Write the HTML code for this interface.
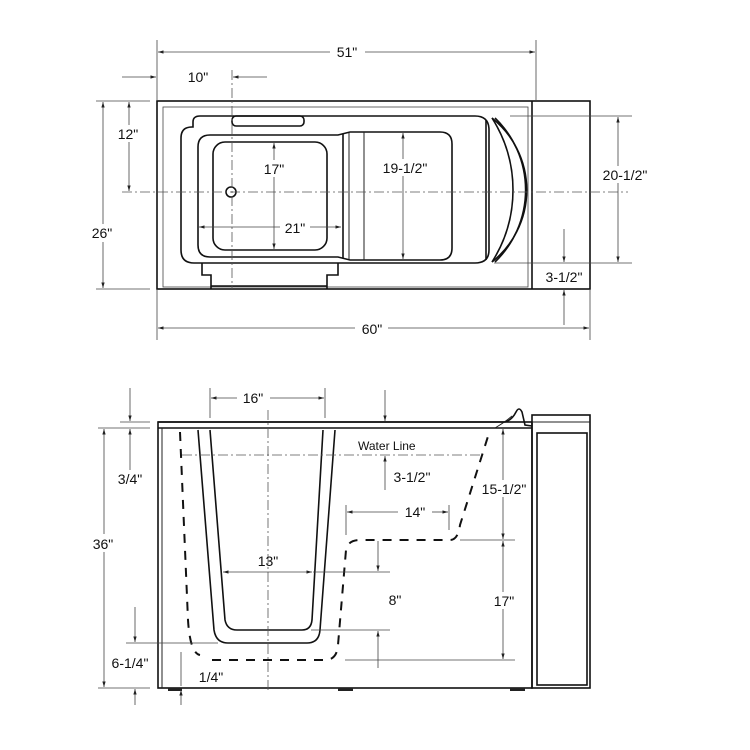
<!DOCTYPE html>
<html><head><meta charset="utf-8"><style>
html,body{margin:0;padding:0;background:#fff;}
svg{display:block;}
text{font-family:"Liberation Sans",sans-serif;font-size:14px;fill:#111;}
.b{fill:none;stroke:#111;stroke-width:1.6;}
.t{fill:none;stroke:#222;stroke-width:1;}
.d{fill:none;stroke:#444;stroke-width:0.8;}
.c{fill:none;stroke:#555;stroke-width:0.8;stroke-dasharray:10,3,2,3;}
.k{fill:none;stroke:#111;stroke-width:2;stroke-dasharray:9,8;}
</style></head><body>
<svg width="750" height="750" viewBox="0 0 750 750" xmlns="http://www.w3.org/2000/svg">
<defs>
<marker id="a" viewBox="0 0 10 10" refX="10" refY="5" markerWidth="7" markerHeight="7" orient="auto-start-reverse"><path d="M0,2 L10,5 L0,8z" fill="#222"/></marker>
</defs>
<rect width="750" height="750" fill="#fff"/>

<!-- ===== TOP VIEW ===== -->
<rect class="b" x="157" y="101" width="433" height="188"/>
<line class="b" x1="532" y1="101" x2="532" y2="289"/>
<rect class="d" x="163" y="107" width="365" height="180"/>
<path class="b" d="M193,127 L193,122 Q193,116 200,116 L475,116 Q489,116 489,130 L489,250 Q489,263 475,263 L194,263 Q181,263 181,250 L181,138 Q181,127 192,127 Z"/>
<line class="b" x1="486" y1="120" x2="486" y2="260"/>
<rect class="b" x="232" y="116" width="72" height="10" rx="4"/>
<path class="b" d="M492,118 A92,92 0 0 1 492,262"/>
<path class="b" d="M495,118 A100,100 0 0 1 495,262"/>
<path class="b" d="M492,118 A134,134 0 0 1 492,262"/>
<path class="b" d="M210,135 L338,135 L350,132 L440,132 Q452,132 452,144 L452,248 Q452,260 440,260 L350,260 L338,257 L210,257 Q198,257 198,245 L198,147 Q198,135 210,135 Z"/>
<line class="b" x1="343" y1="134" x2="343" y2="258"/>
<line class="t" x1="349" y1="133" x2="349" y2="259"/>
<line class="t" x1="364" y1="132" x2="364" y2="260"/>
<rect class="b" x="213" y="142" width="114" height="108" rx="12"/>
<circle class="b" cx="231" cy="192" r="5"/>
<path class="b" d="M202,263 L202,275 L211,275 L211,289 M338,263 L338,275 L327,275 L327,289"/>
<line class="b" x1="211" y1="286" x2="327" y2="286"/>
<line class="c" x1="122" y1="192" x2="628" y2="192"/>
<line class="c" x1="232" y1="70" x2="232" y2="289"/>
<line class="d" x1="157" y1="40" x2="157" y2="100"/>
<line class="d" x1="536" y1="40" x2="536" y2="100"/>
<line class="d" x1="158" y1="52" x2="330" y2="52" marker-start="url(#a)"/>
<line class="d" x1="365" y1="52" x2="535" y2="52" marker-end="url(#a)"/>
<text x="347" y="57" text-anchor="middle">51"</text>
<line class="d" x1="122" y1="77" x2="156" y2="77" marker-end="url(#a)"/>
<line class="d" x1="267" y1="77" x2="233" y2="77" marker-end="url(#a)"/>
<text x="198" y="82" text-anchor="middle">10"</text>
<line class="d" x1="96" y1="101" x2="150" y2="101"/>
<line class="d" x1="96" y1="289" x2="150" y2="289"/>
<line class="d" x1="103" y1="102" x2="103" y2="288" marker-start="url(#a)" marker-end="url(#a)"/>
<rect x="88" y="224" width="30" height="18" fill="#fff"/>
<text x="102" y="238" text-anchor="middle">26"</text>
<line class="d" x1="129" y1="102" x2="129" y2="191" marker-start="url(#a)" marker-end="url(#a)"/>
<rect x="115" y="125" width="30" height="17" fill="#fff"/>
<text x="128" y="139" text-anchor="middle">12"</text>
<line class="d" x1="274" y1="143" x2="274" y2="249" marker-start="url(#a)" marker-end="url(#a)"/>
<rect x="260" y="160" width="30" height="17" fill="#fff"/>
<text x="274" y="174" text-anchor="middle">17"</text>
<line class="d" x1="199" y1="227" x2="341" y2="227" marker-start="url(#a)" marker-end="url(#a)"/>
<rect x="280" y="219" width="30" height="17" fill="#fff"/>
<text x="295" y="233" text-anchor="middle">21"</text>
<line class="d" x1="403" y1="133" x2="403" y2="259" marker-start="url(#a)" marker-end="url(#a)"/>
<rect x="376" y="159" width="58" height="17" fill="#fff"/>
<text x="405" y="173" text-anchor="middle">19-1/2"</text>
<line class="d" x1="510" y1="116" x2="632" y2="116"/>
<line class="d" x1="494" y1="263" x2="632" y2="263"/>
<line class="d" x1="618" y1="117" x2="618" y2="262" marker-start="url(#a)" marker-end="url(#a)"/>
<rect x="598" y="166" width="54" height="17" fill="#fff"/>
<text x="625" y="180" text-anchor="middle">20-1/2"</text>
<line class="d" x1="564" y1="229" x2="564" y2="262" marker-end="url(#a)"/>
<line class="d" x1="564" y1="325" x2="564" y2="290" marker-end="url(#a)"/>
<text x="564" y="282" text-anchor="middle">3-1/2"</text>
<line class="d" x1="157" y1="290" x2="157" y2="340"/>
<line class="d" x1="590" y1="290" x2="590" y2="340"/>
<line class="d" x1="158" y1="328" x2="355" y2="328" marker-start="url(#a)"/>
<line class="d" x1="388" y1="328" x2="589" y2="328" marker-end="url(#a)"/>
<text x="372" y="334" text-anchor="middle">60"</text>

<!-- ===== SIDE VIEW ===== -->
<path class="b" d="M158,422 L505,422 Q512,420 516,412 Q519,406 522,412 L525,425 L532,426"/>
<line class="b" x1="158" y1="428" x2="532" y2="428"/>
<path class="t" d="M495,428 Q505,422 512,416"/>
<rect class="b" x="158" y="422" width="374" height="266"/>
<line class="t" x1="162" y1="428" x2="162" y2="688"/>
<rect class="b" x="532" y="415" width="58" height="273"/>
<line class="t" x1="532" y1="422" x2="590" y2="422"/>
<rect class="b" x="537" y="433" width="50" height="252"/>
<rect x="168" y="688" width="14" height="3" fill="#222"/>
<rect x="338" y="688" width="15" height="3" fill="#222"/>
<rect x="510" y="688" width="15" height="3" fill="#222"/>
<path class="b" d="M198,430 L214,630 Q216,643 228,643 L307,643 Q319,643 320,630 L335,430"/>
<path class="b" d="M210,430 L225,620 Q227,630 237,630 L302,630 Q311,630 312,620 L323,430"/>
<line class="c" x1="268" y1="410" x2="268" y2="690"/>
<line class="c" x1="182" y1="455" x2="482" y2="455"/>
<text x="358" y="450" style="font-size:12px">Water Line</text>
<path class="k" d="M180,432 L188,620 Q190,653 200,655"/>
<path class="k" d="M212,660 L325,660 Q337,660 338,645 L346,550 Q348,540 360,540 L450,540 Q458,540 460,525 L490,430"/>
<line class="d" x1="210" y1="388" x2="210" y2="418"/>
<line class="d" x1="325" y1="388" x2="325" y2="418"/>
<line class="d" x1="211" y1="398" x2="237" y2="398" marker-start="url(#a)"/>
<line class="d" x1="270" y1="398" x2="324" y2="398" marker-end="url(#a)"/>
<text x="253" y="403" text-anchor="middle">16"</text>
<line class="d" x1="120" y1="422" x2="150" y2="422"/>
<line class="d" x1="130" y1="388" x2="130" y2="421" marker-end="url(#a)"/>
<line class="d" x1="130" y1="470" x2="130" y2="429" marker-end="url(#a)"/>
<text x="130" y="484" text-anchor="middle">3/4"</text>
<line class="d" x1="98" y1="428" x2="150" y2="428"/>
<line class="d" x1="104" y1="429" x2="104" y2="687" marker-start="url(#a)" marker-end="url(#a)"/>
<rect x="88" y="534" width="30" height="18" fill="#fff"/>
<text x="103" y="549" text-anchor="middle">36"</text>
<line class="d" x1="126" y1="643" x2="218" y2="643"/>
<line class="d" x1="135" y1="607" x2="135" y2="642" marker-end="url(#a)"/>
<line class="d" x1="135" y1="705" x2="135" y2="689" marker-end="url(#a)"/>
<text x="130" y="668" text-anchor="middle">6-1/4"</text>
<line class="d" x1="98" y1="688" x2="150" y2="688"/>
<line class="d" x1="181" y1="652" x2="181" y2="686"/>
<line class="d" x1="181" y1="705" x2="181" y2="690" marker-end="url(#a)"/>
<text x="211" y="682" text-anchor="middle">1/4"</text>
<line class="d" x1="385" y1="390" x2="385" y2="421" marker-end="url(#a)"/>
<line class="d" x1="385" y1="490" x2="385" y2="456" marker-end="url(#a)"/>
<text x="412" y="482" text-anchor="middle">3-1/2"</text>
<line class="d" x1="503" y1="429" x2="503" y2="539" marker-start="url(#a)" marker-end="url(#a)"/>
<rect x="478" y="480" width="52" height="17" fill="#fff"/>
<text x="504" y="494" text-anchor="middle">15-1/2"</text>
<line class="d" x1="460" y1="540" x2="515" y2="540"/>
<line class="d" x1="503" y1="541" x2="503" y2="659" marker-start="url(#a)" marker-end="url(#a)"/>
<rect x="490" y="592" width="28" height="17" fill="#fff"/>
<text x="504" y="606" text-anchor="middle">17"</text>
<line class="d" x1="345" y1="660" x2="515" y2="660"/>
<line class="d" x1="346" y1="505" x2="346" y2="535"/>
<line class="d" x1="449" y1="505" x2="449" y2="530"/>
<line class="d" x1="347" y1="512" x2="398" y2="512" marker-start="url(#a)"/>
<line class="d" x1="432" y1="512" x2="448" y2="512" marker-end="url(#a)"/>
<text x="415" y="517" text-anchor="middle">14"</text>
<line class="d" x1="378" y1="541" x2="378" y2="571" marker-end="url(#a)"/>
<line class="d" x1="378" y1="668" x2="378" y2="631" marker-end="url(#a)"/>
<text x="395" y="605" text-anchor="middle">8"</text>
<line class="d" x1="313" y1="572" x2="390" y2="572"/>
<line class="d" x1="311" y1="630" x2="390" y2="630"/>
<line class="d" x1="223" y1="572" x2="312" y2="572" marker-start="url(#a)" marker-end="url(#a)"/>
<text x="268" y="566" text-anchor="middle">13"</text>
</svg>
</body></html>
